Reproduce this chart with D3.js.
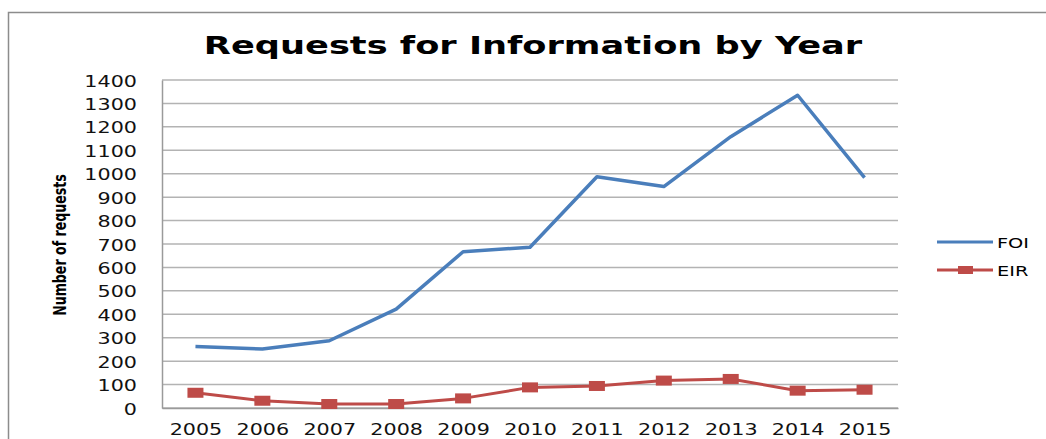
<!DOCTYPE html>
<html>
<head>
<meta charset="utf-8">
<script src="https://cdn.jsdelivr.net/npm/d3@7"></script>
<style>
  body { margin: 0; background: #fff; }
  svg { display: block; }
</style>
</head>
<body>
<div id="chart"></div>
<script>
const years = ['2005', '2006', '2007', '2008', '2009', '2010', '2011', '2012', '2013', '2014', '2015'];
const foiValues = [262, 252, 287, 422, 667, 686, 987, 945, 1158, 1335, 983];
const eirValues = [65, 31, 17, 17, 41, 88, 94, 117, 124, 74, 78];
const yTicks = [0, 100, 200, 300, 400, 500, 600, 700, 800, 900, 1000, 1100, 1200, 1300, 1400];

const width = 1046, height = 439;
const margin = { top: 80, right: 148, bottom: 31, left: 162 };
const innerW = width - margin.left - margin.right;
const innerH = height - margin.top - margin.bottom;
const stretch = 1.38; // reference is stretched horizontally

const svg = d3.select('#chart').append('svg')
  .attr('width', width)
  .attr('height', height);

// outer frame
svg.append('path')
  .attr('d', `M8.5,${height} V12.5 H${width}`)
  .attr('fill', 'none')
  .attr('stroke', '#8c8c8c')
  .attr('stroke-width', 1.5);

const x = d3.scalePoint().domain(years).range([0, innerW]).padding(0.5);
const y = d3.scaleLinear().domain([0, 1400]).range([innerH, 0]);

const g = svg.append('g').attr('transform', `translate(${margin.left},${margin.top})`);

// gridlines
g.append('g').selectAll('line')
  .data(yTicks)
  .join('line')
  .attr('x1', 0).attr('x2', innerW)
  .attr('y1', d => y(d)).attr('y2', d => y(d))
  .attr('stroke', '#b3b3b3')
  .attr('stroke-width', 1.5);

// y axis
const yAxisG = g.append('g')
  .call(d3.axisLeft(y).tickValues(yTicks).tickFormat(d3.format('d')).tickSize(0).tickPadding(0));
yAxisG.select('.domain').attr('stroke', '#9a9a9a').attr('stroke-width', 1.5);
yAxisG.selectAll('text')
  .attr('x', null).attr('dy', null)
  .attr('transform', `translate(-25,6) scale(${stretch},1)`)
  .style('font-family', 'DejaVu Sans')
  .style('font-size', '15px')
  .attr('fill', '#111');

// x axis
const xAxisG = g.append('g')
  .attr('transform', `translate(0,${innerH})`)
  .call(d3.axisBottom(x).tickSize(0).tickPadding(0));
xAxisG.select('.domain').attr('stroke', '#9a9a9a').attr('stroke-width', 1.5);
xAxisG.selectAll('text')
  .attr('y', null).attr('dy', null)
  .attr('transform', `translate(0,27) scale(${stretch},1)`)
  .style('font-family', 'DejaVu Sans')
  .style('font-size', '15px')
  .attr('fill', '#111');

const line = d3.line().x((d, i) => x(years[i])).y(d => y(d));

g.append('path')
  .datum(foiValues)
  .attr('d', line)
  .attr('fill', 'none')
  .attr('stroke', '#4a7ebb')
  .attr('stroke-width', 3.5)
  .attr('stroke-linejoin', 'round');

g.append('path')
  .datum(eirValues)
  .attr('d', line)
  .attr('fill', 'none')
  .attr('stroke', '#be4b48')
  .attr('stroke-width', 3)
  .attr('stroke-linejoin', 'round');

g.selectAll('rect.eir')
  .data(eirValues)
  .join('rect')
  .attr('class', 'eir')
  .attr('x', (d, i) => x(years[i]) - 8)
  .attr('y', d => y(d) - 5)
  .attr('width', 16)
  .attr('height', 10)
  .attr('fill', '#be4b48');

// title
svg.append('text')
  .attr('transform', `translate(533,54) scale(${stretch},1)`)
  .attr('text-anchor', 'middle')
  .style('font-family', 'DejaVu Sans')
  .style('font-weight', 'bold')
  .style('font-size', '25.5px')
  .text('Requests for Information by Year');

// y axis title
svg.append('text')
  .attr('transform', 'translate(66,245) rotate(-90) scale(1,1.3)')
  .attr('text-anchor', 'middle')
  .style('font-family', 'DejaVu Sans Condensed')
  .style('font-weight', 'bold')
  .style('font-size', '14px')
  .text('Number of requests');

// legend
const legend = svg.append('g');
const legendItems = [
  { name: 'FOI', color: '#4a7ebb', y: 242, marker: false },
  { name: 'EIR', color: '#be4b48', y: 270, marker: true }
];
legendItems.forEach(item => {
  legend.append('line')
    .attr('x1', 937).attr('x2', 993)
    .attr('y1', item.y).attr('y2', item.y)
    .attr('stroke', item.color)
    .attr('stroke-width', 3);
  if (item.marker) {
    legend.append('rect')
      .attr('x', 958).attr('y', item.y - 4)
      .attr('width', 15).attr('height', 8)
      .attr('fill', item.color);
  }
  legend.append('text')
    .attr('transform', `translate(997,${item.y + 6}) scale(${stretch},1)`)
    .style('font-family', 'DejaVu Sans')
    .style('font-size', '14px')
    .text(item.name);
});
</script>
</body>
</html>
